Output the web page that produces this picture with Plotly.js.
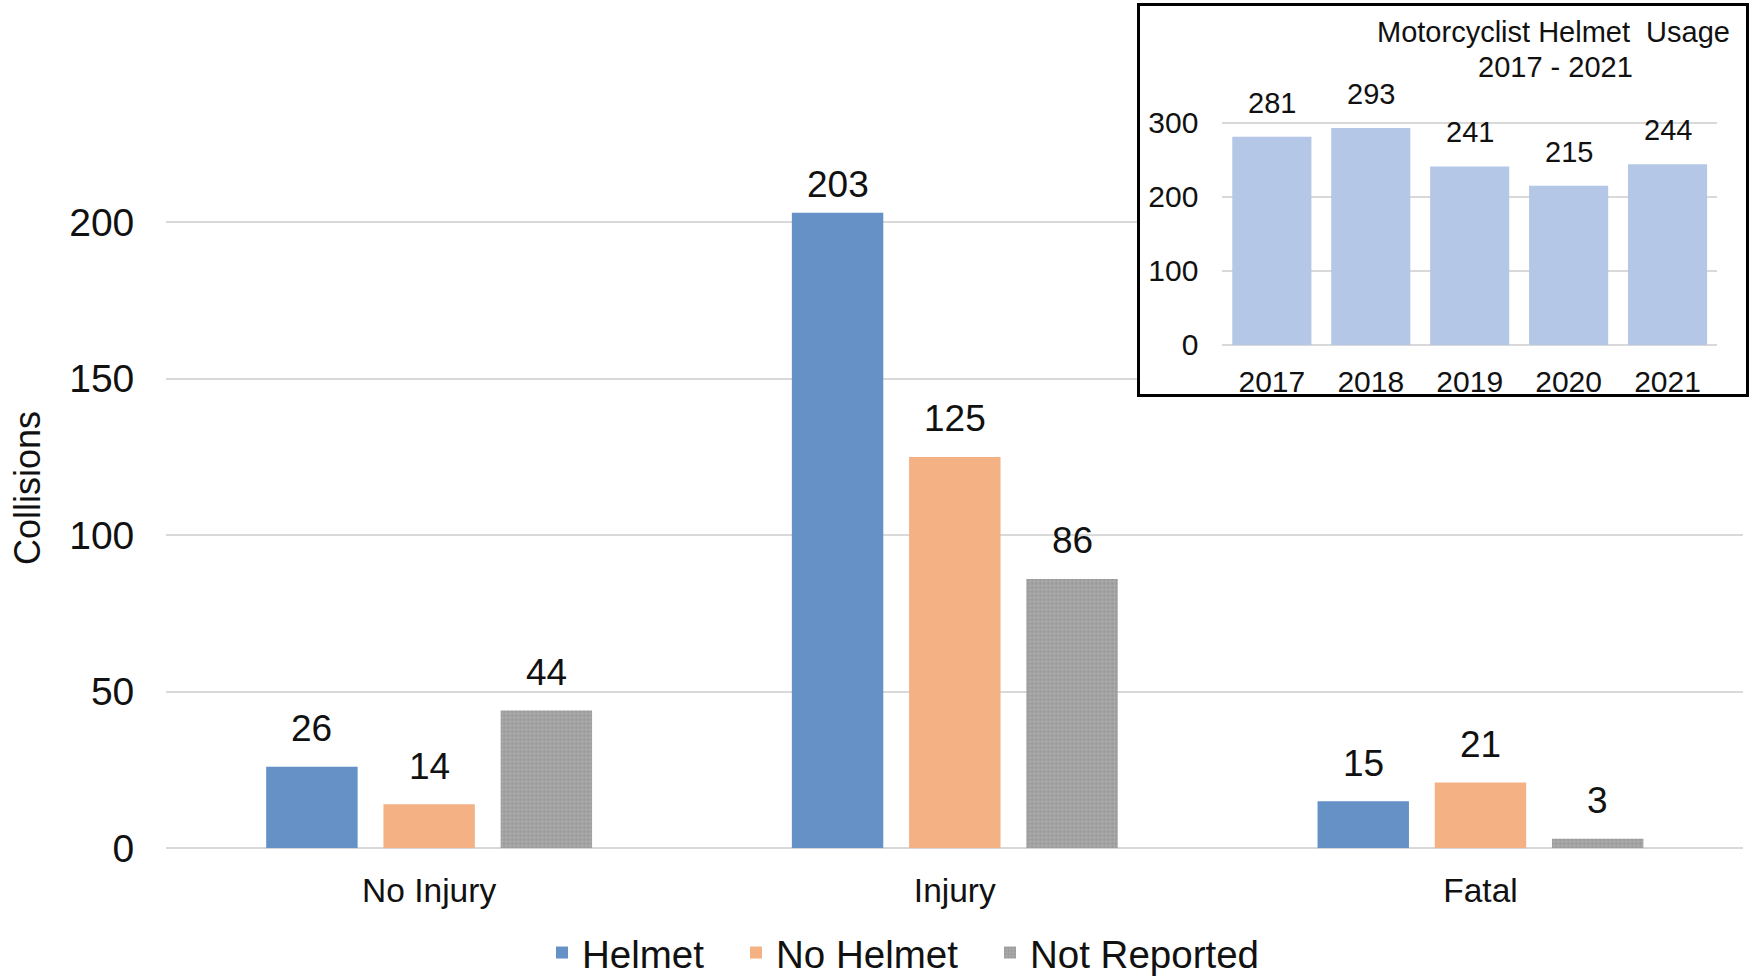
<!DOCTYPE html>
<html>
<head>
<meta charset="utf-8">
<script src="https://cdn.plot.ly/plotly-3.0.1.min.js"></script>
<style>html,body{margin:0;padding:0;background:#fff;}#chart{width:1750px;height:980px;}</style>
</head>
<body>
<div id="chart"></div>
<script>
// ---- data ----
const categories = ['No Injury', 'Injury', 'Fatal'];
const seriesNames = ['Helmet', 'No Helmet', 'Not Reported'];
const helmet = [26, 203, 15];
const noHelmet = [14, 125, 21];
const notReported = [44, 86, 3];
const mainTicks = [0, 50, 100, 150, 200];

const years = ['2017', '2018', '2019', '2020', '2021'];
const helmetUsage = [281, 293, 241, 215, 244];
const insetTicks = [0, 100, 200, 300];

const yTitle = 'Collisions';
const insetTitle1 = 'Motorcyclist Helmet  Usage';
const insetTitle2 = '2017 - 2021';

// ---- style ----
const W = 1750, H = 980;
const FONT = 'Liberation Sans, Arial, sans-serif';
const TXT = '#111111';
const colors = ['#6591C6', '#F4B183', '#A5A5A5'];
const px = p => p / W;
const py = p => 1 - p / H;

const BARGAP = 0.331, GROUPGAP = 0.22;
const slot = (1 - BARGAP) / 3;
const legendIds = ['legend', 'legend2', 'legend3'];
const legendX = [542, 736, 990];

// main plot geometry (pixels)
const Y0PX = 848.2, YTOPPX = 65.6, YMAX = 250;
const pxPerUnit = (Y0PX - YTOPPX) / YMAX;
const LABEL_OFFSET_PX = 38;
const LABEL_MIN_PX = 184; // labels are kept inside the chart area
const labelLimit = (Y0PX - LABEL_MIN_PX) / pxPerUnit;

const values = [helmet, noHelmet, notReported];
const traces = values.map((v, k) => {
  const t = {
    type: 'bar', name: seriesNames[k], x: categories, y: v,
    marker: {color: colors[k], line: {width: 0}},
    xaxis: 'x', yaxis: 'y', hoverinfo: 'skip', legend: legendIds[k]
  };
  if (k === 2) {
    t.marker.pattern = {shape: '.', bgcolor: '#A8A8A8', fgcolor: '#969696', size: 4, solidity: 0.3, fillmode: 'replace'};
  }
  return t;
});

// empty trace to create the inset frame subplot
traces.push({type: 'scatter', x: [], y: [], xaxis: 'x2', yaxis: 'y2', showlegend: false, hoverinfo: 'skip'});

traces.push({
  type: 'bar', x: years, y: helmetUsage, xaxis: 'x3', yaxis: 'y3', width: 0.8,
  marker: {color: '#B4C7E7'}, showlegend: false, hoverinfo: 'skip'
});

const annotations = [];
values.forEach((v, k) => {
  v.forEach((val, i) => {
    annotations.push({
      xref: 'x', yref: 'y', x: i + (k - 1) * slot,
      y: Math.min(val + LABEL_OFFSET_PX / pxPerUnit, labelLimit),
      text: String(val), showarrow: false, yanchor: 'middle', xanchor: 'center',
      font: {family: FONT, size: 37, color: TXT}
    });
  });
});
helmetUsage.forEach((val, i) => {
  annotations.push({
    xref: 'x3', yref: 'y3', x: i, y: val, yshift: 34,
    text: String(val), showarrow: false, yanchor: 'middle', xanchor: 'center',
    font: {family: FONT, size: 29, color: TXT}
  });
});
annotations.push({
  xref: 'paper', yref: 'paper', x: px(27), y: py(488), text: yTitle, textangle: -90,
  showarrow: false, xanchor: 'center', yanchor: 'middle',
  font: {family: FONT, size: 36, color: TXT}
});
annotations.push({
  xref: 'paper', yref: 'paper', x: px(1732), y: py(32), text: insetTitle1,
  showarrow: false, xanchor: 'right', yanchor: 'middle',
  font: {family: FONT, size: 29, color: TXT}
});
annotations.push({
  xref: 'paper', yref: 'paper', x: px(1555), y: py(67), text: insetTitle2,
  showarrow: false, xanchor: 'center', yanchor: 'middle',
  font: {family: FONT, size: 29, color: TXT}
});

const layout = {
  width: W, height: H,
  margin: {l: 0, r: 0, t: 0, b: 0, autoexpand: false},
  paper_bgcolor: '#ffffff', plot_bgcolor: '#ffffff',
  font: {family: FONT, color: TXT},
  barmode: 'group', bargap: BARGAP, bargroupgap: GROUPGAP,
  showlegend: true,
  xaxis: {
    domain: [px(166.3), px(1743.3)], range: [-0.5, 2.5], type: 'category',
    showgrid: false, zeroline: false, showline: false, ticks: '',
    tickfont: {family: FONT, size: 33.5, color: TXT}, ticklabelstandoff: 19,
    anchor: 'y', fixedrange: true
  },
  yaxis: {
    domain: [py(Y0PX), py(YTOPPX)], range: [0, YMAX],
    tickvals: mainTicks, ticktext: mainTicks.map(String),
    showgrid: true, gridcolor: '#D9D9D9', gridwidth: 2,
    zeroline: true, zerolinecolor: '#D9D9D9', zerolinewidth: 2,
    showline: false, ticks: '',
    tickfont: {family: FONT, size: 39, color: TXT}, ticklabelstandoff: 31,
    anchor: 'x', fixedrange: true
  },
  xaxis2: {
    domain: [px(1140), px(1746)], range: [0, 1], anchor: 'y2',
    showgrid: false, zeroline: false, showticklabels: false, ticks: '',
    showline: true, mirror: true, linecolor: '#000000', linewidth: 3, fixedrange: true
  },
  yaxis2: {
    domain: [py(394), py(6)], range: [0, 1], anchor: 'x2',
    showgrid: false, zeroline: false, showticklabels: false, ticks: '',
    showline: true, mirror: true, linecolor: '#000000', linewidth: 3, fixedrange: true
  },
  xaxis3: {
    domain: [px(1222.4), px(1717)], range: [-0.5, 4.5], type: 'category', anchor: 'y3',
    showgrid: false, zeroline: false, showline: false, ticks: '',
    tickfont: {family: FONT, size: 30, color: TXT}, ticklabelstandoff: 16, fixedrange: true
  },
  yaxis3: {
    domain: [py(344.9), py(100.6)], range: [0, 330], anchor: 'x3',
    tickvals: insetTicks, ticktext: insetTicks.map(String),
    showgrid: true, gridcolor: '#D9D9D9', gridwidth: 1.5,
    zeroline: true, zerolinecolor: '#D9D9D9', zerolinewidth: 1.5,
    showline: false, ticks: '',
    tickfont: {family: FONT, size: 30, color: TXT}, ticklabelstandoff: 23, fixedrange: true
  },
  annotations: annotations
};
legendIds.forEach((id, k) => {
  layout[id] = {
    orientation: 'h', xref: 'container', yref: 'container',
    x: legendX[k] / W, xanchor: 'left', y: 1 - 953 / H, yanchor: 'middle',
    font: {family: FONT, size: 38.5, color: TXT}, bgcolor: 'rgba(0,0,0,0)'
  };
});

Plotly.newPlot('chart', traces, layout, {staticPlot: true, displayModeBar: false});
</script>
</body>
</html>
